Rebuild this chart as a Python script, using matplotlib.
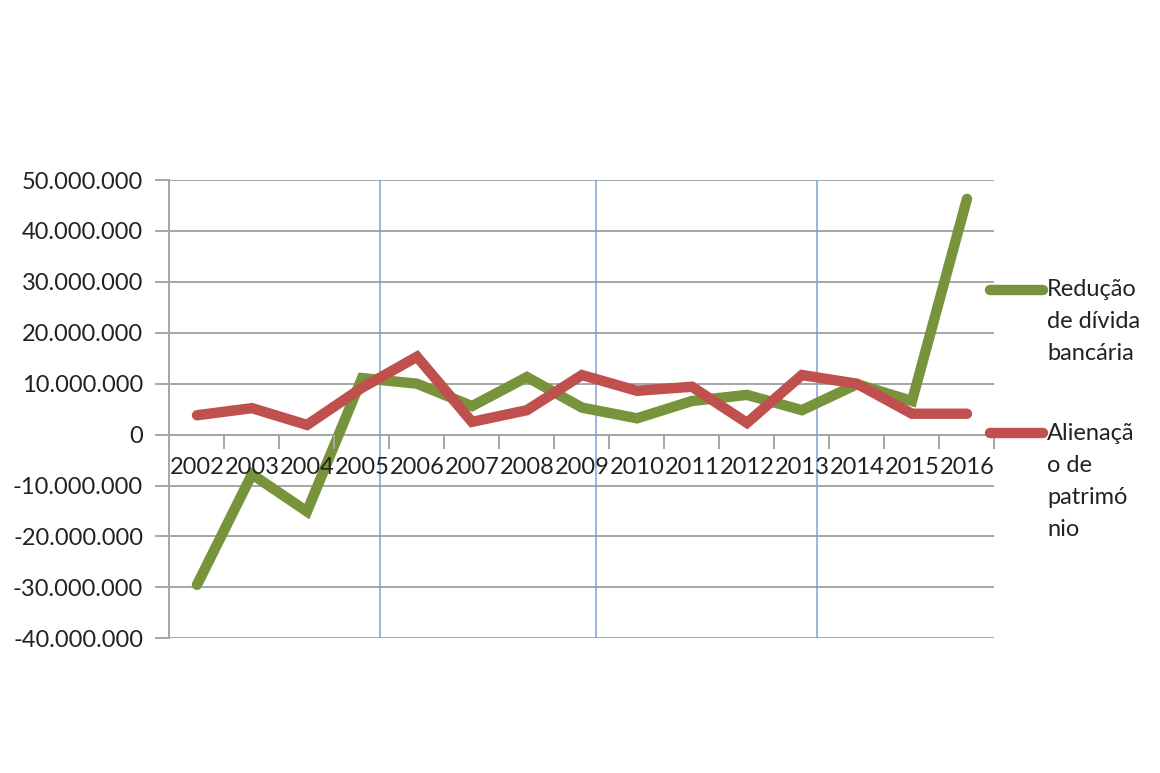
import numpy as np
import matplotlib.pyplot as plt
from matplotlib.lines import Line2D

# Data
years = ['2002', '2003', '2004', '2005', '2006', '2007', '2008', '2009',
         '2010', '2011', '2012', '2013', '2014', '2015', '2016']
reducao_divida = [-29.5e6, -7.8e6, -15.1e6, 11.1e6, 10.0e6, 5.6e6, 11.3e6, 5.3e6,
                  3.2e6, 6.6e6, 7.8e6, 4.8e6, 9.9e6, 6.6e6, 46.3e6]
alienacao_patrimonio = [3.8e6, 5.2e6, 1.9e6, 9.2e6, 15.3e6, 2.5e6, 4.8e6, 11.7e6,
                        8.6e6, 9.4e6, 2.3e6, 11.7e6, 10.0e6, 4.1e6, 4.1e6]
y_ticks = [-40e6, -30e6, -20e6, -10e6, 0, 10e6, 20e6, 30e6, 40e6, 50e6]
# stray blue vertical lines in the original (category positions)
blue_lines = [3.33, 7.25, 11.27]

GREEN = '#77933c'
RED = '#c0504d'
GRID = '#a6a6a6'
FS = 17

plt.rcParams['font.family'] = ['Lato', 'DejaVu Sans']

fig = plt.figure(figsize=(11.6, 7.73), dpi=100)
ax = fig.add_axes([0.1461, 0.1743, 0.7112, 0.5928])

x = np.arange(len(years))
ax.plot(x, reducao_divida, color=GREEN, lw=7.5, solid_capstyle='round',
        solid_joinstyle='miter', zorder=4)
ax.plot(x, alienacao_patrimonio, color=RED, lw=7.5, solid_capstyle='round',
        solid_joinstyle='miter', zorder=5)

for bx in blue_lines:
    ax.axvline(bx, color='#7fa0d4', lw=1.1, zorder=3)

ax.set_xlim(-0.5, len(years) - 0.5)
ax.set_ylim(-40e6, 50e6)
ax.set_yticks(y_ticks)
ax.set_yticklabels([f'{int(v):,}'.replace(',', '.') for v in y_ticks], fontsize=FS,
                   color='#222222')
ax.yaxis.grid(True, color=GRID, lw=1.4, zorder=1)
ax.tick_params(axis='y', length=10, width=1.4, color=GRID, pad=9)

# category axis crossing at zero
ax.spines['bottom'].set_position(('data', 0))
ax.spines['bottom'].set_color(GRID)
ax.spines['bottom'].set_linewidth(1.4)
ax.spines['left'].set_color(GRID)
ax.spines['left'].set_linewidth(1.4)
ax.spines['top'].set_visible(False)
ax.spines['right'].set_visible(False)
ax.set_axisbelow(True)

ax.set_xticks(x)
ax.set_xticklabels(years, fontsize=FS, color='#222222')
ax.tick_params(axis='x', which='major', length=0, pad=16)
ax.set_xticks(np.arange(-0.5, len(years)), minor=True)
ax.tick_params(axis='x', which='minor', length=10, width=1.4, color=GRID,
               direction='out')
# year labels sit on top of the lines
ax.xaxis.set_zorder(10)

# legend drawn the way the spreadsheet places it
W, H = 1160, 773
def fx(px):
    return px / W
def fy(py):
    return 1 - py / H

fig.add_artist(Line2D([fx(990), fx(1043)], [fy(290), fy(290)], color=GREEN, lw=7.5,
                      solid_capstyle='round'))
fig.add_artist(Line2D([fx(990), fx(1043)], [fy(433), fy(433)], color=RED, lw=7.5,
                      solid_capstyle='round'))
for i, t in enumerate(['Redução', 'de dívida', 'bancária']):
    fig.text(fx(1047), fy(290 + 32 * i), t, fontsize=FS, va='center', ha='left',
             color='#222222')
for i, t in enumerate(['Alienaçã', 'o de', 'patrimó', 'nio']):
    fig.text(fx(1047), fy(433 + 32 * i), t, fontsize=FS, va='center', ha='left',
             color='#222222')

fig.savefig('out.png', dpi=100, facecolor='white')
